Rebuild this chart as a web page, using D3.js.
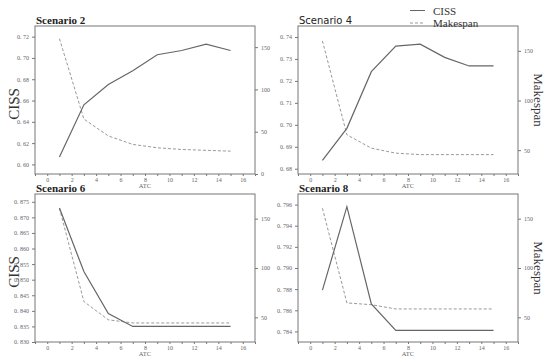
<!DOCTYPE html>
<html>
<head>
<meta charset="utf-8">
<script src="https://cdn.jsdelivr.net/npm/d3@7"></script>
<style>
  body { margin: 0; background: #fff; }
  svg text { font-family: "Liberation Serif", "DejaVu Serif", serif; }
</style>
</head>
<body>
<div id="chart"></div>
<script>
const atc = [1, 3, 5, 7, 9, 11, 13, 15];
const atcTicks = [0, 2, 4, 6, 8, 10, 12, 14, 16];

const ciss2 = [0.607, 0.656, 0.675, 0.688, 0.703, 0.707, 0.713, 0.707];
const make2 = [160, 65, 45, 35, 31, 29, 28, 27];
const ciss4 = [0.6838, 0.6984, 0.7242, 0.7358, 0.7367, 0.7307, 0.7268, 0.7268];
const make4 = [160, 65.5, 52, 47, 45.5, 45.5, 45.5, 45.5];
const ciss6 = [0.873, 0.8526, 0.8391, 0.835, 0.835, 0.835, 0.835, 0.835];
const make6 = [160.5, 66, 47.5, 44.3, 44.3, 44.3, 44.3, 44.3];
const ciss8 = [0.7879, 0.7958, 0.7866, 0.7841, 0.7841, 0.7841, 0.7841, 0.7841];
const make8 = [160.5, 64.6, 62.8, 58.5, 58.5, 58.5, 58.5, 58.5];

const panels = [
  { title: "Scenario 2", ciss: ciss2, make: make2, x0: 35, y0: 26, yDom: [0.591, 0.730], yTicks: [0.60, 0.62, 0.64, 0.66, 0.68, 0.70, 0.72], fmt: ".2f", rDom: [0, 175], rTicks: [0, 50, 100, 150], left: true, titleFont: "bold" },
  { title: "Scenario 4", ciss: ciss4, make: make4, x0: 298, y0: 26, yDom: [0.6776, 0.745], yTicks: [0.68, 0.69, 0.70, 0.71, 0.72, 0.73, 0.74], fmt: ".2f", rDom: [26, 175], rTicks: [50, 100, 150], right: true, sans: true },
  { title: "Scenario 6", ciss: ciss6, make: make6, x0: 35, y0: 194, yDom: [0.830, 0.8775], yTicks: [0.830, 0.835, 0.840, 0.845, 0.850, 0.855, 0.860, 0.865, 0.870, 0.875], fmt: ".3f", rDom: [25, 175], rTicks: [50, 100, 150], left: true, titleFont: "bold" },
  { title: "Scenario 8", ciss: ciss8, make: make8, x0: 298, y0: 194, yDom: [0.783, 0.797], yTicks: [0.784, 0.786, 0.788, 0.790, 0.792, 0.794, 0.796], fmt: ".3f", rDom: [25, 175], rTicks: [50, 100, 150], right: true, titleFont: "bold" }
];

const pw = 220, ph = 148;
const lineCol = "#666", axisCol = "#777", tickCol = "#777";

const svg = d3.select("#chart").append("svg")
  .attr("width", 550).attr("height", 362);

panels.forEach(p => {
  const g = svg.append("g").attr("transform", `translate(${p.x0},${p.y0})`);
  const x = d3.scaleLinear().domain([-1, 17]).range([0, pw]);
  const y = d3.scaleLinear().domain(p.yDom).range([ph, 0]);
  const yr = d3.scaleLinear().domain(p.rDom).range([ph, 0]);
  const f = d3.format(p.fmt);

  // frame
  g.append("rect").attr("width", pw).attr("height", ph)
    .attr("fill", "none").attr("stroke", axisCol).attr("stroke-width", 1);

  const xa = g.append("g").attr("transform", `translate(0,${ph})`)
    .call(d3.axisBottom(x).tickValues(d3.range(-1, 18)).tickSize(2).tickPadding(2)
      .tickFormat(d => atcTicks.includes(d) ? d : ""));
  const ya = g.append("g")
    .call(d3.axisLeft(y).tickValues(p.yTicks).tickSize(3)
      .tickFormat(d => f(d).replace(".", ". ")));
  const ra = g.append("g").attr("transform", `translate(${pw},0)`)
    .call(d3.axisRight(yr).tickValues(p.rTicks).tickSize(3));

  [xa, ya, ra].forEach(a => {
    a.select(".domain").remove();
    a.selectAll("line").attr("stroke", tickCol);
    a.selectAll("text").attr("fill", "#666").style("font-size", "6px")
      .style("font-family", "'Liberation Serif', serif");
  });
  xa.selectAll("text").attr("dy", "0.6em");

  g.append("text").attr("x", pw / 2).attr("y", ph + 14)
    .attr("text-anchor", "middle").attr("fill", "#666")
    .style("font-size", "6.5px").text("ATC");

  g.append("text").attr("x", 1).attr("y", -2)
    .attr("fill", "#222")
    .style("font-size", p.sans ? "10px" : "11px")
    .style("font-weight", p.titleFont || "normal")
    .style("font-family", p.sans ? "'DejaVu Sans', sans-serif" : "'Liberation Serif', serif")
    .text(p.title);

  if (p.left) {
    g.append("text").attr("transform", `translate(-16,${ph / 2 + 4}) rotate(-90)`)
      .attr("text-anchor", "middle").attr("fill", "#333")
      .style("font-size", "15px").text("CISS");
  }
  if (p.right) {
    g.append("text").attr("transform", `translate(${pw + 16},${ph / 2}) rotate(90)`)
      .attr("text-anchor", "middle").attr("fill", "#333")
      .style("font-size", "13px").text("Makespan");
  }

  g.append("path").datum(p.make)
    .attr("d", d3.line().x((d, i) => x(atc[i])).y(d => yr(d)))
    .attr("fill", "none").attr("stroke", "#999").attr("stroke-width", 1)
    .attr("stroke-dasharray", "3,2");
  g.append("path").datum(p.ciss)
    .attr("d", d3.line().x((d, i) => x(atc[i])).y(d => y(d)))
    .attr("fill", "none").attr("stroke", lineCol).attr("stroke-width", 1.2);
});

// legend
const leg = svg.append("g").attr("transform", "translate(410,0)");
const items = [["CISS", null, 10.5], ["Makespan", "3,2", 23]];
items.forEach(([name, dash, yy]) => {
  leg.append("line").attr("x1", 0).attr("x2", 15).attr("y1", yy).attr("y2", yy)
    .attr("stroke", dash ? "#999" : lineCol).attr("stroke-width", 1)
    .attr("stroke-dasharray", dash);
  leg.append("text").attr("x", 23).attr("y", yy + 4)
    .attr("fill", "#333").style("font-size", "11px").text(name);
});
</script>
</body>
</html>
